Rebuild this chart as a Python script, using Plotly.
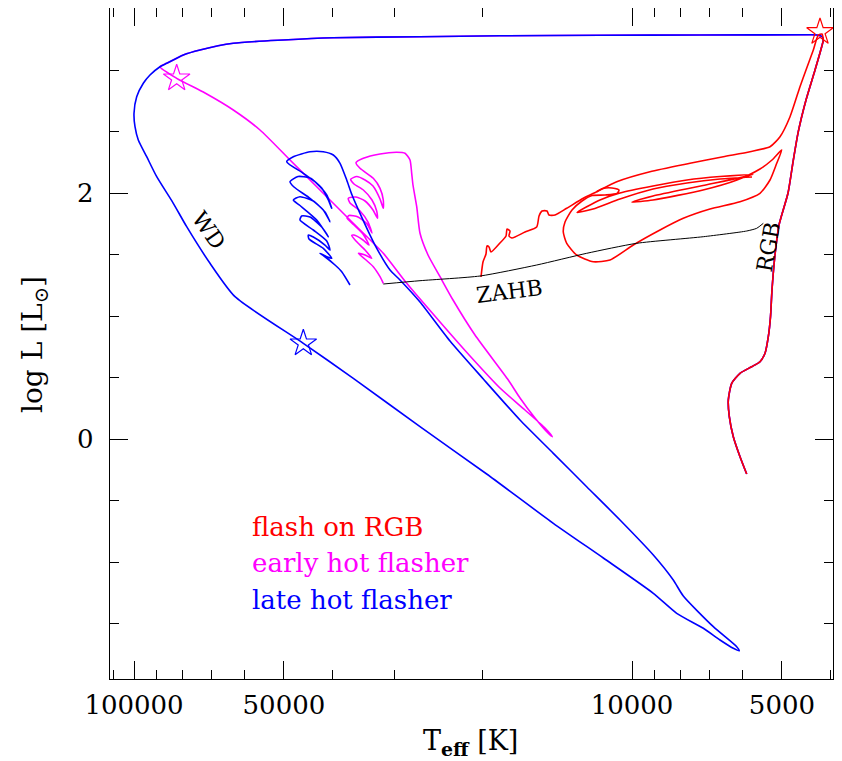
import numpy as np
import plotly.graph_objects as go

# ---------------- data (log Teff [K], log L [Lsun]) ----------------
rgb_logT = [3.7697, 3.7831, 3.7966, 3.8046, 3.8066, 3.7998, 3.7831, 3.7597, 3.7430, 3.7329,
            3.7263, 3.7219, 3.7189, 3.7129, 3.7048, 3.6867, 3.6767, 3.6661, 3.6506, 3.6325,
            3.6191, 3.6159]
rgb_logL = [-0.2846, -0.1439, 0.0187, 0.1813, 0.3171, 0.4528, 0.5341, 0.5878, 0.6285, 0.6967,
            0.8317, 0.9943, 1.2114, 1.4959, 1.7398, 2.0000, 2.2520, 2.4984, 2.7561, 3.0000,
            3.1894, 3.2439]

top_logT = [3.6185, 3.6285, 3.6426, 3.8635, 4.0643, 4.2651, 4.4257, 4.6004, 4.7002, 4.8006,
            4.8675, 4.9010, 4.9343, 4.9478]
top_logL = [3.2724, 3.2846, 3.2862, 3.2846, 3.2821, 3.2780, 3.2707, 3.2626, 3.2439, 3.2171,
            3.1626, 3.1220, 3.0545, 3.0268]

late_logT = [4.9679, 4.9813, 4.9946, 5.0000, 4.9980, 4.9914, 4.9745, 4.9544, 4.9211, 4.8942,
             4.8474, 4.7972, 4.6600, 4.5596, 4.4257, 4.2918, 4.1580, 4.0576, 3.9572, 3.9102,
             3.8568, 3.8233, 3.7966, 3.7846, 3.7898, 3.8367, 3.8970, 3.9171, 3.9572, 4.0241,
             4.0910, 4.1580, 4.2249, 4.2986, 4.3655, 4.4257, 4.4659, 4.4859, 4.5161, 4.5462,
             4.5622, 4.5729, 4.5863, 4.5998, 4.6199, 4.6466, 4.6801, 4.6934,
             4.6600, 4.6331, 4.6130, 4.6030, 4.6098, 4.6231, 4.6466, 4.6707, 4.6867, 4.6787,
             4.6466, 4.6199, 4.6064, 4.6165, 4.6399, 4.6667, 4.6801, 4.6667, 4.6331, 4.6098,
             4.6231, 4.6466, 4.6633, 4.6667, 4.6399, 4.6130, 4.6064, 4.6165, 4.6399, 4.6500,
             4.6486, 4.6199, 4.6030, 4.6130, 4.6265, 4.6185, 4.5964, 4.5829, 4.5663]
late_logL = [2.9593, 2.8919, 2.7829, 2.6480, 2.5390, 2.4309, 2.2951, 2.1325, 1.9163, 1.7260,
             1.4285, 1.1569, 0.7780, 0.4935, 0.1000, -0.2846, -0.6854, -0.9675, -1.2545, -1.4171,
             -1.5390, -1.6341, -1.7016, -1.7211, -1.6886, -1.5260, -1.2764, -1.1463, -0.9431, -0.6585,
             -0.3878, -0.1163, 0.1545, 0.4878, 0.7967, 1.1138, 1.2927, 1.3740, 1.5772, 1.8350,
             1.9837, 2.1057, 2.2415, 2.3089, 2.3358, 2.3358, 2.2951, 2.2545,
             2.1602, 2.0789, 1.9837, 1.8756, 1.9431, 2.0407, 2.1220, 2.1341, 2.0919, 2.0488,
             1.9569, 1.8618, 1.7667, 1.8455, 1.9350, 1.9699, 1.9431, 1.8984, 1.7805, 1.6447,
             1.7236, 1.8049, 1.8130, 1.7805, 1.6992, 1.6098, 1.5366, 1.5772, 1.6423, 1.6585,
             1.6260, 1.5504, 1.4691, 1.4821, 1.5098, 1.4878, 1.4146, 1.3602, 1.2520]

early_logT = [4.9143, 4.8574, 4.8006, 4.7470, 4.6867, 4.6331, 4.5663, 4.4994, 4.4524, 4.3855,
              4.3253, 4.2651, 4.2149, 4.1747, 4.1600, 4.1687, 4.1948, 4.2249, 4.2484, 4.3153,
              4.3594, 4.3855, 4.4096, 4.4257, 4.4323, 4.4398, 4.4424, 4.4458, 4.4558, 4.4725,
              4.5060, 4.5395, 4.5542,
              4.5462, 4.5195, 4.5060, 4.4994, 4.4994, 4.5060, 4.5201, 4.5361, 4.5528, 4.5649,
              4.5582, 4.5395, 4.5221, 4.5127, 4.5110, 4.5201, 4.5361, 4.5542, 4.5697, 4.5663,
              4.5462, 4.5301, 4.5221, 4.5321, 4.5502, 4.5683, 4.5723, 4.5582, 4.5402, 4.5281,
              4.5402, 4.5582, 4.5629, 4.5542, 4.5361, 4.5227, 4.5361, 4.5496, 4.5341, 4.5195,
              4.5060, 4.4994]
early_logL = [2.9325, 2.8130, 2.6748, 2.5122, 2.2683, 2.0512, 1.7805, 1.5098, 1.2659, 0.9512,
              0.6748, 0.4146, 0.2358, 0.0894, 0.0187, 0.0488, 0.1707, 0.3333, 0.4797, 0.8455,
              1.1301, 1.3195, 1.4959, 1.6724, 1.8886, 2.0650, 2.1602, 2.2683, 2.3228, 2.3309,
              2.3171, 2.2821, 2.2463,
              2.2008, 2.1195, 2.0382, 1.9431, 1.8756, 1.9512, 2.0569, 2.1057, 2.1341, 2.1114,
              2.0732, 2.0244, 1.9431, 1.8537, 1.7943, 1.8618, 1.9350, 1.9675, 1.9569, 1.9187,
              1.8537, 1.7642, 1.6748, 1.7480, 1.8049, 1.8171, 1.7967, 1.7398, 1.6667, 1.5772,
              1.6179, 1.6585, 1.6545, 1.6098, 1.5366, 1.4691, 1.4959, 1.5098, 1.4553, 1.4008,
              1.3195, 1.2659]

rgbflash_logT = [3.6185, 3.6259, 3.6359, 3.6506, 3.6627, 3.6827, 3.7028, 3.7229, 3.7631, 3.8167,
                 3.8835, 3.9639, 4.0307, 4.0709, 4.0978, 4.1311, 4.1546, 4.1667, 4.1707, 4.1807,
                 4.1867, 4.1914, 4.2149, 4.2410, 4.2470, 4.2450, 4.2510, 4.2530, 4.2651, 4.2831,
                 4.2871, 4.2912, 4.2932, 4.2992, 4.3032]
rgbflash_logL = [3.2927, 3.2846, 3.1626, 3.0000, 2.8642, 2.6203, 2.4577, 2.3764, 2.3358, 2.2951,
                 2.2415, 2.1732, 2.0919, 2.0106, 1.9569, 1.8756, 1.8211, 1.8211, 1.8537, 1.8537,
                 1.8130, 1.7236, 1.6829, 1.6341, 1.6504, 1.6911, 1.7073, 1.6504, 1.5935, 1.5203,
                 1.5610, 1.5691, 1.5041, 1.4390, 1.3171]

loops_logT = [4.0709, 4.0582, 4.0402, 4.0261, 4.0301, 4.0542, 4.0803, 4.1004, 4.1205, 4.1345,
              4.1380, 4.1311, 4.1110, 4.0777, 4.0442, 3.9974, 3.9438, 3.8970, 3.8434, 3.7831,
              3.7430, 3.7229, 3.7094, 3.6994, 3.7189, 3.7430, 3.7892, 3.8574, 3.9578, 4.0000,
              3.9578, 3.8574, 3.7570, 3.8233, 3.8896, 3.9578, 4.0241, 4.0643, 4.1104, 4.0783,
              4.0241, 3.9578, 3.8896, 3.8233, 3.7590]
loops_logL = [2.0106, 2.0366, 2.0407, 2.0244, 1.9959, 1.9837, 1.9797, 1.9350, 1.8618, 1.7642,
              1.6829, 1.5911, 1.4959, 1.4415, 1.4553, 1.5772, 1.6992, 1.7943, 1.8699, 1.9293,
              1.9976, 2.1057, 2.2415, 2.3496, 2.2683, 2.1951, 2.1057, 2.0244, 1.9431, 1.9268,
              1.9756, 2.0610, 2.1504, 2.1341, 2.1057, 2.0569, 2.0000, 1.9431, 1.8415, 1.8699,
              1.9512, 2.0325, 2.0813, 2.1138, 2.1301]

zahb_logT = [4.4994, 4.4257, 4.3052, 4.1914, 4.0910, 3.9906, 3.8568, 3.7697, 3.7496, 3.7363]
zahb_logL = [1.2602, 1.2870, 1.3252, 1.4146, 1.5098, 1.5911, 1.6447, 1.6911, 1.7130, 1.7537]

star_logT = [3.6225, 4.9143, 4.6600]
star_logL = [3.3089, 2.9325, 0.7780]
star_colors = ["#ff0000", "#ff00ff", "#0000ff"]

major_T = [100000, 50000, 10000, 5000]
minor_T = [110000, 90000, 80000, 70000, 60000, 40000, 30000, 20000,
           9000, 8000, 7000, 6000, 4000]
major_L = [0, 2]
minor_L = [-1.5, -1.0, -0.5, 0.5, 1.0, 1.5, 2.5, 3.0]

legend_text = ["flash on RGB", "early hot flasher", "late hot flasher"]
legend_y = [-0.7154, -1.0081, -1.3089]
legend_x = 4.7671

RED, MAG, BLUE = "#ff0000", "#ff00ff", "#0000ff"
FONT = "DejaVu Serif"
SMOOTH = 0.6

fig = go.Figure()

# early hot flasher (magenta)
fig.add_trace(go.Scatter(x=rgb_logT + top_logT + early_logT,
                         y=rgb_logL + top_logL + early_logL,
                         mode="lines", line=dict(color=MAG, width=1.6, shape="spline", smoothing=SMOOTH),
                         hoverinfo="skip"))
# late hot flasher (blue)
fig.add_trace(go.Scatter(x=rgb_logT + top_logT + late_logT,
                         y=rgb_logL + top_logL + late_logL,
                         mode="lines", line=dict(color=BLUE, width=1.6, shape="spline", smoothing=SMOOTH),
                         hoverinfo="skip"))
# flash on RGB (red)
fig.add_trace(go.Scatter(x=rgb_logT + rgbflash_logT + [None] + loops_logT,
                         y=rgb_logL + rgbflash_logL + [None] + loops_logL,
                         mode="lines", connectgaps=False,
                         line=dict(color=RED, width=1.6, shape="spline", smoothing=SMOOTH),
                         hoverinfo="skip"))
# ZAHB
fig.add_trace(go.Scatter(x=zahb_logT, y=zahb_logL, mode="lines",
                         line=dict(color="black", width=1, shape="spline", smoothing=SMOOTH),
                         hoverinfo="skip"))
# flash stars
fig.add_trace(go.Scatter(x=star_logT, y=star_logL, mode="markers",
                         marker=dict(symbol="star-open", size=20, color=star_colors,
                                     line=dict(color=star_colors, width=1.2)),
                         hoverinfo="skip"))

ann = []
for t, yv, c in zip(legend_text, legend_y, [RED, MAG, BLUE]):
    ann.append(dict(x=legend_x, y=yv, xref="x", yref="y", text=t, showarrow=False,
                    xanchor="left", yanchor="middle", font=dict(family=FONT, size=26, color=c)))
ann.append(dict(x=4.8494, y=1.6992, xref="x", yref="y", text="WD", showarrow=False,
                textangle=55, font=dict(family=FONT, size=22, color="black")))
ann.append(dict(x=4.2470, y=1.2033, xref="x", yref="y", text="ZAHB", showarrow=False,
                textangle=-7, font=dict(family=FONT, size=22, color="black")))
ann.append(dict(x=3.7269, y=1.5610, xref="x", yref="y", text="RGB", showarrow=False,
                textangle=-80, font=dict(family=FONT, size=22, color="black")))
# axis titles
ann.append(dict(x=0.4986, y=-0.094, xref="paper", yref="paper", xanchor="center", yanchor="middle",
                text="T<sub><b>eff</b></sub> [K]", showarrow=False,
                font=dict(family=FONT, size=27, color="black")))
ann.append(dict(x=-0.1037, y=0.4978, xref="paper", yref="paper", xanchor="center", yanchor="middle",
                text="log L [L<sub>⊙</sub>]", textangle=-90, showarrow=False,
                font=dict(family=FONT, size=28, color="black")))

# the page body adds an 8 px offset; margins compensate so the frame sits at
# x 110..833, y 8..679 in the window
fig.update_layout(
    width=842, height=761,
    margin=dict(l=102, r=17, t=0, b=90, autoexpand=False),
    paper_bgcolor="white", plot_bgcolor="white",
    showlegend=False,
    font=dict(family=FONT, size=24, color="black"),
    annotations=ann,
)

fig.update_xaxes(
    range=[5.0482, 3.5964], automargin=False,
    tickmode="array", tickvals=list(np.log10(major_T)), ticktext=[str(v) for v in major_T],
    ticks="inside", ticklen=18, tickwidth=1, tickcolor="black",
    minor=dict(tickmode="array", tickvals=list(np.log10(minor_T)), ticks="inside",
               ticklen=9, tickwidth=1, tickcolor="black"),
    showline=True, linecolor="black", linewidth=1.3, mirror="allticks",
    showgrid=False, zeroline=False, ticklabelstandoff=3,
    tickfont=dict(family=FONT, size=26, color="black"),
)
fig.update_yaxes(
    range=[-1.9512, 3.5041], automargin=False,
    tickmode="array", tickvals=major_L, ticktext=[str(v) for v in major_L],
    ticks="inside", ticklen=18, tickwidth=1, tickcolor="black",
    minor=dict(tickmode="array", tickvals=minor_L, ticks="inside",
               ticklen=9, tickwidth=1, tickcolor="black"),
    showline=True, linecolor="black", linewidth=1.3, mirror="allticks",
    showgrid=False, zeroline=False, ticklabelstandoff=10,
    tickfont=dict(family=FONT, size=26, color="black"),
)

fig.write_html("out.html")
